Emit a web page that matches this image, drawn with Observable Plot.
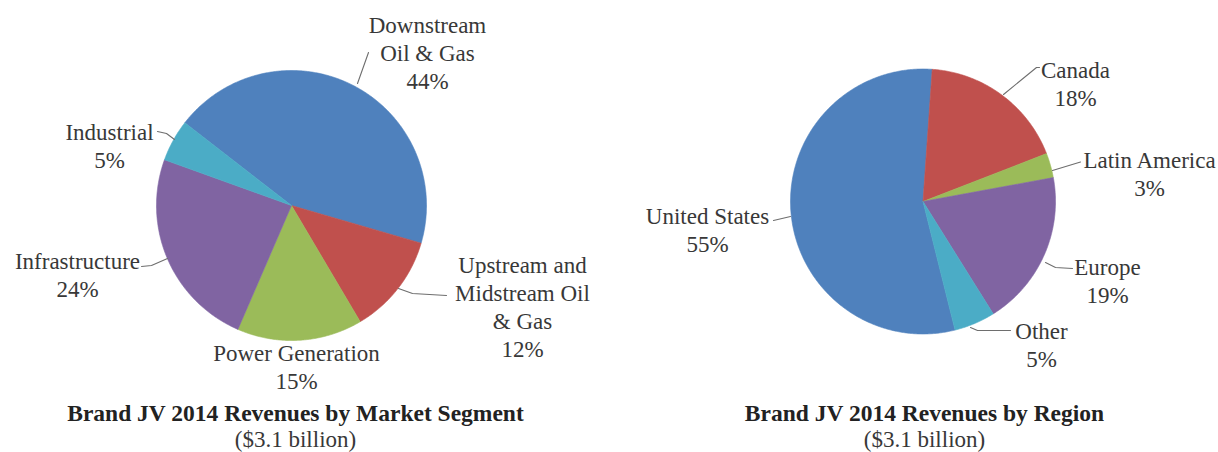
<!DOCTYPE html>
<html>
<head>
<meta charset="utf-8">
<script src="https://cdn.jsdelivr.net/npm/d3@7"></script>
<script src="https://cdn.jsdelivr.net/npm/@observablehq/plot@0.6"></script>
<style>
  html, body { margin: 0; padding: 0; background: #ffffff; }
  #chart { width: 1218px; height: 452px; }
  #chart svg text, #chart svg tspan { font-family: "Liberation Serif", "Times New Roman", Times, serif !important; }
  #chart svg .title-text text { font-weight: bold !important; }
</style>
</head>
<body>
<div id="chart"></div>
<script>
// ---------------- data ----------------
const segmentCategories = ["Downstream Oil & Gas", "Upstream and Midstream Oil & Gas", "Power Generation", "Infrastructure", "Industrial"];
const segmentValues = [44, 12, 15, 24, 5];
const segmentLabelLines = [["Downstream", "Oil & Gas"], ["Upstream and", "Midstream Oil", "& Gas"], ["Power Generation"], ["Infrastructure"], ["Industrial"]];

const regionCategories = ["United States", "Canada", "Latin America", "Europe", "Other"];
const regionValues = [55, 18, 3, 19, 5];
const regionLabelLines = [["United States"], ["Canada"], ["Latin America"], ["Europe"], ["Other"]];

const chartTitles = ["Brand JV 2014 Revenues by Market Segment", "Brand JV 2014 Revenues by Region"];
const chartSubtitles = ["($3.1 billion)", "($3.1 billion)"];

const sliceColors = ["#4F81BD", "#C0504D", "#9BBB59", "#8064A2", "#4BACC6"];

// ---------------- layout (positions relative to each pie centre) ----------------
const W = 1218, H = 452;
const FONT = "Liberation Serif";
const LINE_H = 28;
const pies = [
  {
    cx: 291, cy: 205, r: 135, startDeg: 307.8,
    categories: segmentCategories, values: segmentValues, lines: segmentLabelLines,
    labelPos: [[136, -173], [231, 67], [5, 155], [-214, 63], [-182, -66]],
    leaders: [
      [[66, -122], [77, -153]],
      [[107, 83], [121, 88], [155, 90]],
      null,
      [[-124, 53], [-140, 60], [-150, 61]],
      [[-117, -66], [-125, -72], [-134, -74]]
    ],
    titleDx: 4
  },
  {
    cx: 922.5, cy: 201, r: 132.5, startDeg: 166,
    categories: regionCategories, values: regionValues, lines: regionLabelLines,
    labelPos: [[-215.5, 22], [152.5, -124], [226.5, -34], [184.5, 73], [118.5, 137]],
    leaders: [
      [[-149.5, 19], [-132.5, 15]],
      [[80.5, -107], [113.5, -134], [116.5, -134]],
      [[129.5, -31], [157.5, -39.5]],
      [[122.5, 61], [132.5, 66], [149.5, 67]],
      [[47.5, 126], [54.5, 129], [87.5, 129]]
    ],
    titleDx: 1.5
  }
];
const titleBaseline = 420;
const subtitleBaseline = 446;

// ---------------- build mark tables ----------------
const slicePts = [];
const labelRows = [];
const leaderPts = [];
const titleRows = [];
const subtitleRows = [];

pies.forEach((p, pi) => {
  const a0 = p.startDeg * Math.PI / 180;
  const arcs = d3.pie().sort(null).startAngle(a0).endAngle(a0 + 2 * Math.PI)(p.values);
  arcs.forEach((a, i) => {
    const key = `${pi}-${i}`;
    const cat = p.categories[i];
    slicePts.push({key, category: cat, x: p.cx, y: p.cy});
    const steps = Math.max(4, Math.ceil((a.endAngle - a.startAngle) / (Math.PI / 360)));
    for (let s = 0; s <= steps; ++s) {
      const t = a.startAngle + (a.endAngle - a.startAngle) * s / steps;
      slicePts.push({key, category: cat, x: p.cx + p.r * Math.sin(t), y: p.cy - p.r * Math.cos(t)});
    }
    slicePts.push({key, category: cat, x: p.cx, y: p.cy});

    const textLines = [...p.lines[i], `${p.values[i]}%`];
    const [lx, ly] = p.labelPos[i];
    textLines.forEach((t, j) => labelRows.push({x: p.cx + lx, y: p.cy + ly + j * LINE_H, text: t}));

    const ld = p.leaders[i];
    if (ld) ld.forEach(([dx, dy]) => leaderPts.push({key, x: p.cx + dx, y: p.cy + dy}));
  });
  titleRows.push({x: p.cx + p.titleDx, y: titleBaseline, text: chartTitles[pi]});
  subtitleRows.push({x: p.cx + p.titleDx, y: subtitleBaseline, text: chartSubtitles[pi]});
});

const chart = Plot.plot({
  width: W,
  height: H,
  margin: 0,
  style: {background: "#ffffff", overflow: "visible"},
  x: {domain: [0, W], range: [0, W], axis: null},
  y: {domain: [0, H], range: [0, H], axis: null},
  color: {domain: [...segmentCategories, ...regionCategories], range: [...sliceColors, ...sliceColors]},
  marks: [
    Plot.line(slicePts, {x: "x", y: "y", z: "key", fill: "category", stroke: "category", strokeWidth: 0.6, curve: "linear"}),
    Plot.line(leaderPts, {x: "x", y: "y", z: "key", stroke: "#6e6e6e", strokeWidth: 1.1, curve: "linear"}),
    Plot.text(labelRows, {x: "x", y: "y", text: "text", textAnchor: "middle", lineAnchor: "bottom",
      fontSize: 23, fontFamily: FONT, fill: "#383838"}),
    Plot.text(titleRows, {x: "x", y: "y", text: "text", textAnchor: "middle", lineAnchor: "bottom",
      fontSize: 23.5, fontFamily: FONT, fontWeight: "bold", fill: "#222222", className: "title-text"}),
    Plot.text(subtitleRows, {x: "x", y: "y", text: "text", textAnchor: "middle", lineAnchor: "bottom",
      fontSize: 23, fontFamily: FONT, fill: "#383838"})
  ]
});
document.getElementById("chart").appendChild(chart);
</script>
</body>
</html>
